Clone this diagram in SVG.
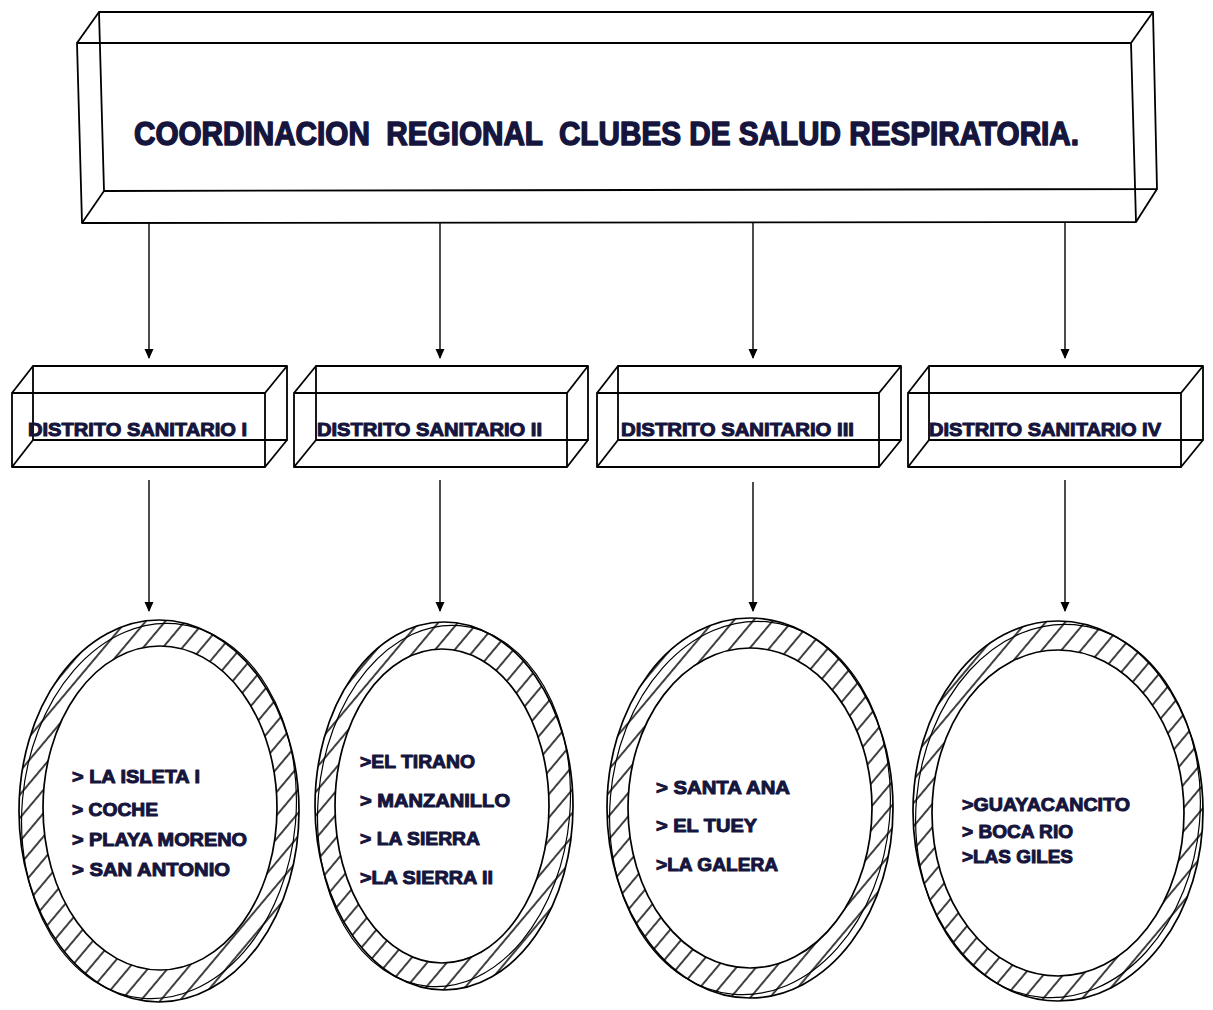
<svg xmlns="http://www.w3.org/2000/svg" width="1213" height="1010" viewBox="0 0 1213 1010">
<style>
.ln{fill:none;stroke:#000;stroke-width:1.8;stroke-linejoin:round}
.tx{font-family:"Liberation Sans",Arial,sans-serif;font-weight:bold;fill:#15153d;stroke:#15153d;stroke-width:1;stroke-linejoin:round}
.tt{stroke-width:1.5}
.ring{fill:url(#hatch);fill-rule:evenodd;stroke:none}
.el{fill:none;stroke:#000;stroke-width:1.7}
.el2{fill:none;stroke:#000;stroke-width:1.2}
.con{stroke:#000;stroke-width:1.4;fill:none}
</style>
<defs>
<pattern id="hatch" patternUnits="userSpaceOnUse" width="15" height="15" patternTransform="rotate(40)">
<rect width="15" height="15" fill="#fff"/>
<line x1="1" y1="-1" x2="1" y2="16" stroke="#000" stroke-width="1.5"/>
</pattern>
<marker id="ah" markerWidth="10" markerHeight="12" refX="9" refY="5" orient="auto" markerUnits="userSpaceOnUse" viewBox="0 0 10 10">
<path d="M0,0.5 L10,5 L0,9.5 Z" fill="#000"/>
</marker>
<clipPath id="c1"><ellipse cx="159" cy="811" rx="140" ry="191"/></clipPath>
<clipPath id="c2"><ellipse cx="444" cy="806" rx="129" ry="184"/></clipPath>
<clipPath id="c3"><ellipse cx="750" cy="808" rx="143" ry="190"/></clipPath>
<clipPath id="c4"><ellipse cx="1058" cy="811" rx="145" ry="190"/></clipPath>
</defs>
<rect width="1213" height="1010" fill="#fff"/>

<g id="connectors">
<line class="con" x1="149" y1="223" x2="149" y2="358" marker-end="url(#ah)"/>
<line class="con" x1="440" y1="223" x2="440" y2="358" marker-end="url(#ah)"/>
<line class="con" x1="753" y1="223" x2="753" y2="358" marker-end="url(#ah)"/>
<line class="con" x1="1065" y1="223" x2="1065" y2="358" marker-end="url(#ah)"/>
<line class="con" x1="149" y1="480" x2="149" y2="611" marker-end="url(#ah)"/>
<line class="con" x1="440" y1="480" x2="440" y2="611" marker-end="url(#ah)"/>
<line class="con" x1="753" y1="482" x2="753" y2="611" marker-end="url(#ah)"/>
<line class="con" x1="1065" y1="480" x2="1065" y2="611" marker-end="url(#ah)"/>
</g>

<g id="title">
<polygon class="ln" points="99,12 1153,12 1157,189 104,191"/>
<polygon class="ln" points="77,43 1131,43 1136,222 82,223"/>
<line class="ln" x1="99" y1="12" x2="77" y2="43"/>
<line class="ln" x1="1153" y1="12" x2="1131" y2="43"/>
<line class="ln" x1="1157" y1="189" x2="1136" y2="222"/>
<line class="ln" x1="104" y1="191" x2="82" y2="223"/>
<text class="tx tt" x="134" y="145" font-size="33" textLength="945" lengthAdjust="spacingAndGlyphs" xml:space="preserve">COORDINACION  REGIONAL  CLUBES DE SALUD RESPIRATORIA.</text>
</g>

<g id="d1">
<polygon class="ln" points="33,366 287,366 287,440 33,440"/>
<polygon class="ln" points="12,393 265,393 265,467 12,467"/>
<line class="ln" x1="33" y1="366" x2="12" y2="393"/>
<line class="ln" x1="287" y1="366" x2="265" y2="393"/>
<line class="ln" x1="287" y1="440" x2="265" y2="467"/>
<line class="ln" x1="33" y1="440" x2="12" y2="467"/>
<text class="tx" x="28" y="436" font-size="19" textLength="219" lengthAdjust="spacingAndGlyphs">DISTRITO SANITARIO I</text>
</g>
<g id="d2">
<polygon class="ln" points="316,366 588,366 588,440 316,440"/>
<polygon class="ln" points="294,393 567,393 567,467 294,467"/>
<line class="ln" x1="316" y1="366" x2="294" y2="393"/>
<line class="ln" x1="588" y1="366" x2="567" y2="393"/>
<line class="ln" x1="588" y1="440" x2="567" y2="467"/>
<line class="ln" x1="316" y1="440" x2="294" y2="467"/>
<text class="tx" x="317" y="436" font-size="19" textLength="225" lengthAdjust="spacingAndGlyphs">DISTRITO SANITARIO II</text>
</g>
<g id="d3">
<polygon class="ln" points="618,366 901,366 901,440 618,440"/>
<polygon class="ln" points="597,393 879,393 879,467 597,467"/>
<line class="ln" x1="618" y1="366" x2="597" y2="393"/>
<line class="ln" x1="901" y1="366" x2="879" y2="393"/>
<line class="ln" x1="901" y1="440" x2="879" y2="467"/>
<line class="ln" x1="618" y1="440" x2="597" y2="467"/>
<text class="tx" x="621" y="436" font-size="19" textLength="233" lengthAdjust="spacingAndGlyphs">DISTRITO SANITARIO III</text>
</g>
<g id="d4">
<polygon class="ln" points="929,366 1203,366 1203,440 929,440"/>
<polygon class="ln" points="908,393 1181,393 1181,467 908,467"/>
<line class="ln" x1="929" y1="366" x2="908" y2="393"/>
<line class="ln" x1="1203" y1="366" x2="1181" y2="393"/>
<line class="ln" x1="1203" y1="440" x2="1181" y2="467"/>
<line class="ln" x1="929" y1="440" x2="908" y2="467"/>
<text class="tx" x="929" y="436" font-size="19" textLength="232" lengthAdjust="spacingAndGlyphs">DISTRITO SANITARIO IV</text>
</g>

<g id="c1n">
<path class="ring" d="M19,811 a140,191 0 1,0 280,0 a140,191 0 1,0 -280,0 Z M43,808 a117,162 0 1,0 234,0 a117,162 0 1,0 -234,0 Z"/>
<ellipse class="el" cx="159" cy="811" rx="140" ry="191"/>
<ellipse class="el2" cx="159" cy="811" rx="137" ry="188" transform="rotate(5 159 811)" clip-path="url(#c1)"/>
<ellipse class="el" cx="160" cy="808" rx="117" ry="162" fill="#fff"/>
<text class="tx" x="72" y="783" font-size="19" textLength="128" lengthAdjust="spacingAndGlyphs">&gt; LA ISLETA I</text>
<text class="tx" x="72" y="816" font-size="19" textLength="86" lengthAdjust="spacingAndGlyphs">&gt; COCHE</text>
<text class="tx" x="72" y="846" font-size="19" textLength="175" lengthAdjust="spacingAndGlyphs">&gt; PLAYA MORENO</text>
<text class="tx" x="72" y="876" font-size="19" textLength="158" lengthAdjust="spacingAndGlyphs">&gt; SAN ANTONIO</text>
</g>

<g id="c2n">
<path class="ring" d="M315,806 a129,184 0 1,0 258,0 a129,184 0 1,0 -258,0 Z M335,806 a107,157 0 1,0 214,0 a107,157 0 1,0 -214,0 Z"/>
<ellipse class="el" cx="444" cy="806" rx="129" ry="184"/>
<ellipse class="el2" cx="444" cy="806" rx="126" ry="181" transform="rotate(5 444 806)" clip-path="url(#c2)"/>
<ellipse class="el" cx="442" cy="806" rx="107" ry="157" fill="#fff"/>
<text class="tx" x="360" y="768" font-size="19" textLength="115" lengthAdjust="spacingAndGlyphs">&gt;EL TIRANO</text>
<text class="tx" x="360" y="807" font-size="19" textLength="150" lengthAdjust="spacingAndGlyphs">&gt; MANZANILLO</text>
<text class="tx" x="360" y="845" font-size="19" textLength="120" lengthAdjust="spacingAndGlyphs">&gt; LA SIERRA</text>
<text class="tx" x="360" y="884" font-size="19" textLength="133" lengthAdjust="spacingAndGlyphs">&gt;LA SIERRA II</text>
</g>

<g id="c3n">
<path class="ring" d="M607,808 a143,190 0 1,0 286,0 a143,190 0 1,0 -286,0 Z M628,808 a122,160 0 1,0 244,0 a122,160 0 1,0 -244,0 Z"/>
<ellipse class="el" cx="750" cy="808" rx="143" ry="190"/>
<ellipse class="el2" cx="750" cy="808" rx="140" ry="187" transform="rotate(5 750 808)" clip-path="url(#c3)"/>
<ellipse class="el" cx="750" cy="808" rx="122" ry="160" fill="#fff"/>
<text class="tx" x="656" y="794" font-size="19" textLength="134" lengthAdjust="spacingAndGlyphs">&gt; SANTA ANA</text>
<text class="tx" x="656" y="832" font-size="19" textLength="101" lengthAdjust="spacingAndGlyphs">&gt; EL TUEY</text>
<text class="tx" x="656" y="871" font-size="19" textLength="122" lengthAdjust="spacingAndGlyphs">&gt;LA GALERA</text>
</g>

<g id="c4n">
<path class="ring" d="M913,811 a145,190 0 1,0 290,0 a145,190 0 1,0 -290,0 Z M932,813 a126,163 0 1,0 252,0 a126,163 0 1,0 -252,0 Z"/>
<ellipse class="el" cx="1058" cy="811" rx="145" ry="190"/>
<ellipse class="el2" cx="1058" cy="811" rx="142" ry="187" transform="rotate(5 1058 811)" clip-path="url(#c4)"/>
<ellipse class="el" cx="1058" cy="813" rx="126" ry="163" fill="#fff"/>
<text class="tx" x="962" y="811" font-size="19" textLength="168" lengthAdjust="spacingAndGlyphs">&gt;GUAYACANCITO</text>
<text class="tx" x="962" y="838" font-size="19" textLength="111" lengthAdjust="spacingAndGlyphs">&gt; BOCA RIO</text>
<text class="tx" x="962" y="863" font-size="19" textLength="111" lengthAdjust="spacingAndGlyphs">&gt;LAS GILES</text>
</g>
</svg>
